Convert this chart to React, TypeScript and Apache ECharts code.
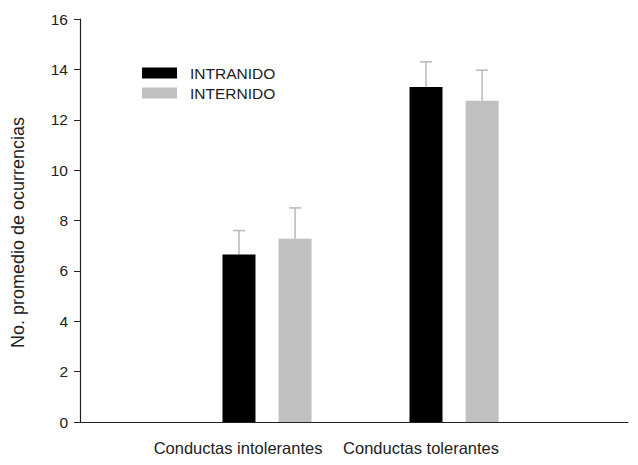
import React, { useEffect, useRef } from "react";
import * as echarts from "echarts";

const categories = ["Conductas intolerantes", "Conductas tolerantes"];
const categoryPositions = [1, 2];
const seriesNames = ["INTRANIDO", "INTERNIDO"];
const intranido = [6.65, 13.3];
const intranidoErr = [0.95, 1.0];
const internido = [7.28, 12.75];
const internidoErr = [1.22, 1.22];
const yTicks = [0, 2, 4, 6, 8, 10, 12, 14, 16];

const BAR_W = 33;
const GAP = 0.7;
const COLORS = ["#000000", "#c0c0c0"];

export default function App() {
  const ref = useRef<HTMLDivElement>(null);
  useEffect(() => {
    if (!ref.current) return;
    const chart = echarts.init(ref.current, null, { renderer: "svg" });
    const offset = (BAR_W + BAR_W * GAP) / 2;
    const errData: any[] = [];
    [intranido, internido].forEach((vals, s) => {
      const errs = s === 0 ? intranidoErr : internidoErr;
      vals.forEach((v, i) => {
        errData.push([categoryPositions[i], v, v + errs[i], s === 0 ? -offset : offset]);
      });
    });
    chart.setOption({
      animation: false,
      textStyle: { fontFamily: "Liberation Sans, Arial, sans-serif" },
      grid: { left: 80, right: 10, top: 19, bottom: 43 },
      legend: {
        data: seriesNames,
        orient: "vertical",
        left: 142,
        top: 65,
        padding: 0,
        itemWidth: 35,
        itemHeight: 11,
        itemGap: 4,
        icon: "rect",
        textStyle: { fontSize: 15.5, color: "#222", padding: [0, 0, 0, 8] },
      },
      xAxis: {
        type: "value",
        min: 0,
        max: 2.93,
        interval: 1,
        splitLine: { show: false },
        axisTick: { show: false },
        axisLine: { show: true, lineStyle: { color: "#222", width: 1.2 } },
        axisLabel: {
          fontSize: 16.5,
          color: "#222",
          margin: 17,
          showMaxLabel: false,
          formatter: (v: number) => {
            const idx = categoryPositions.indexOf(Math.round(v * 100) / 100);
            if (idx < 0) return "";
            return "{c" + idx + "|" + categories[idx] + "}";
          },
          rich: {
            c0: { fontSize: 16.5, color: "#222", padding: [0, 58, 0, 0] },
            c1: { fontSize: 16.5, color: "#222", padding: [0, 66, 0, 0] },
          },
        },
      },
      yAxis: {
        type: "value",
        min: 0,
        max: 16,
        interval: 2,
        name: "No. promedio de ocurrencias",
        nameLocation: "middle",
        nameGap: 53,
        nameRotate: 90,
        nameTextStyle: { fontSize: 18, color: "#222", padding: [0, 24, 0, 0] },
        splitLine: { show: false },
        axisLine: { show: true, lineStyle: { color: "#222", width: 1.2 } },
        axisTick: { show: true, inside: false, length: 6, lineStyle: { color: "#222" } },
        axisLabel: {
          fontSize: 15.5,
          color: "#222",
          margin: 12,
          formatter: (v: number) => (yTicks.includes(v) ? String(v) : ""),
        },
      },
      series: [
        {
          name: seriesNames[0],
          type: "bar",
          barWidth: BAR_W,
          barGap: GAP * 100 + "%",
          itemStyle: { color: COLORS[0] },
          data: intranido.map((v, i) => [categoryPositions[i], v]),
          z: 2,
        },
        {
          name: seriesNames[1],
          type: "bar",
          barWidth: BAR_W,
          barGap: GAP * 100 + "%",
          itemStyle: { color: COLORS[1] },
          data: internido.map((v, i) => [categoryPositions[i], v]),
          z: 2,
        },
        {
          type: "custom",
          z: 1,
          silent: true,
          data: errData,
          renderItem: (params: any, api: any) => {
            const x = api.value(0);
            const lo = api.coord([x, api.value(1)]);
            const hi = api.coord([x, api.value(2)]);
            const px = lo[0] + api.value(3);
            const cap = 6;
            const style = { stroke: "#b8b8b8", lineWidth: 1.5 };
            return {
              type: "group",
              children: [
                { type: "line", shape: { x1: px, y1: lo[1], x2: px, y2: hi[1] }, style },
                { type: "line", shape: { x1: px - cap, y1: hi[1], x2: px + cap, y2: hi[1] }, style },
              ],
            };
          },
        },
      ],
    });
    return () => chart.dispose();
  }, []);
  return <div ref={ref} style={{ width: 638, height: 465, position: "absolute", left: 0, top: 0, background: "#fff" }} />;
}
